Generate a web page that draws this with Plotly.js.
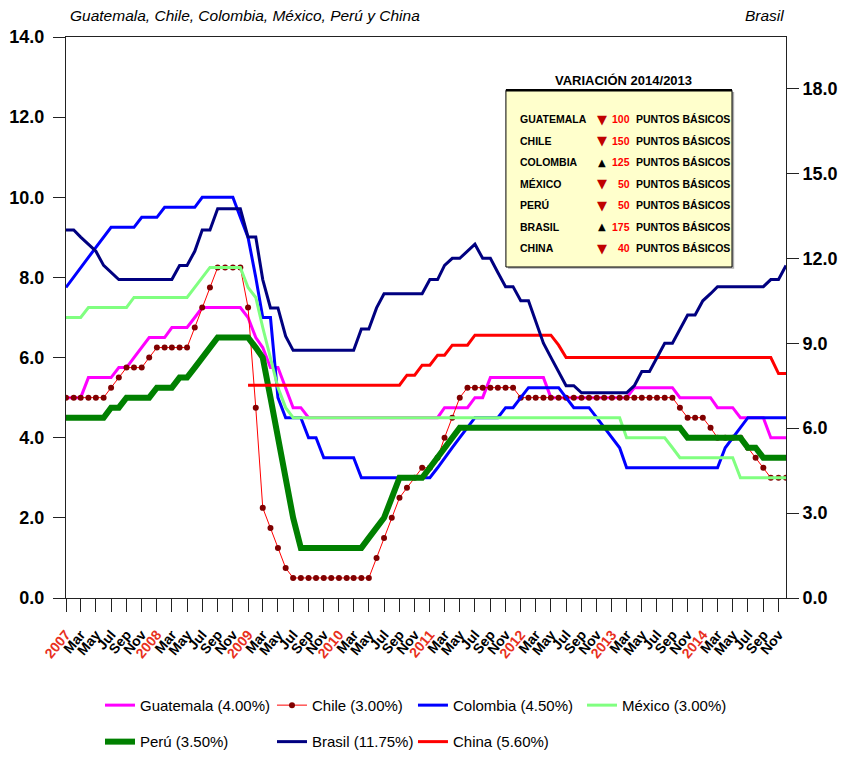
<!DOCTYPE html>
<html><head><meta charset="utf-8">
<script src="https://cdn.plot.ly/plotly-3.0.1.min.js"></script>
<style>html,body{margin:0;padding:0;background:#fff}</style>
</head><body>
<div id="chart" style="width:846px;height:757px"></div>
<script>
// ---------- DATA ----------
const years = [2007, 2008, 2009, 2010, 2011, 2012, 2013, 2014];
const tickMonths = [1, 3, 5, 7, 9, 11];
const tickMonthLabels = ['', 'Mar', 'May', 'Jul', 'Sep', 'Nov'];

const seriesNames = ['Guatemala (4.00%)', 'Chile (3.00%)', 'Colombia (4.50%)', 'México (3.00%)',
                     'Perú (3.50%)', 'Brasil (11.75%)', 'China (5.60%)'];

const guatemala = [5.0,5.0,5.0,5.5,5.5,5.5,5.5,5.75,5.75,6.0,6.25,6.5,
  6.5,6.5,6.75,6.75,6.75,7.0,7.25,7.25,7.25,7.25,7.25,7.25,
  7.0,6.5,6.25,5.75,5.75,5.25,4.75,4.75,4.5,4.5,4.5,4.5,
  4.5,4.5,4.5,4.5,4.5,4.5,4.5,4.5,4.5,4.5,4.5,4.5,
  4.5,4.5,4.75,4.75,4.75,4.75,5.0,5.0,5.5,5.5,5.5,5.5,
  5.5,5.5,5.5,5.5,5.0,5.0,5.0,5.0,5.0,5.0,5.0,5.0,
  5.0,5.0,5.0,5.25,5.25,5.25,5.25,5.25,5.25,5.0,5.0,5.0,
  5.0,5.0,4.75,4.75,4.75,4.5,4.5,4.5,4.5,4.0,4.0,4.0];

const chile = [5.0,5.0,5.0,5.0,5.0,5.0,5.25,5.5,5.75,5.75,5.75,6.0,
  6.25,6.25,6.25,6.25,6.25,6.75,7.25,7.75,8.25,8.25,8.25,8.25,
  7.25,4.75,2.25,1.75,1.25,0.75,0.5,0.5,0.5,0.5,0.5,0.5,
  0.5,0.5,0.5,0.5,0.5,1.0,1.5,2.0,2.5,2.75,3.0,3.25,
  3.25,3.5,4.0,4.5,5.0,5.25,5.25,5.25,5.25,5.25,5.25,5.25,
  5.0,5.0,5.0,5.0,5.0,5.0,5.0,5.0,5.0,5.0,5.0,5.0,
  5.0,5.0,5.0,5.0,5.0,5.0,5.0,5.0,5.0,4.75,4.5,4.5,
  4.5,4.25,4.0,4.0,4.0,4.0,3.75,3.5,3.25,3.0,3.0,3.0];

const colombia = [7.75,8.0,8.25,8.5,8.75,9.0,9.25,9.25,9.25,9.25,9.5,9.5,
  9.5,9.75,9.75,9.75,9.75,9.75,10.0,10.0,10.0,10.0,10.0,9.5,
  9.0,8.0,7.0,7.0,5.0,4.5,4.5,4.5,4.0,4.0,3.5,3.5,
  3.5,3.5,3.5,3.0,3.0,3.0,3.0,3.0,3.0,3.0,3.0,3.0,
  3.0,3.25,3.5,3.75,4.0,4.25,4.5,4.5,4.5,4.5,4.75,4.75,
  5.0,5.25,5.25,5.25,5.25,5.25,5.0,4.75,4.75,4.75,4.5,4.25,
  4.0,3.75,3.25,3.25,3.25,3.25,3.25,3.25,3.25,3.25,3.25,3.25,
  3.25,3.25,3.25,3.75,4.0,4.25,4.5,4.5,4.5,4.5,4.5,4.5];

const mexico = [7.0,7.0,7.0,7.25,7.25,7.25,7.25,7.25,7.25,7.5,7.5,7.5,
  7.5,7.5,7.5,7.5,7.5,7.75,8.0,8.25,8.25,8.25,8.25,8.25,
  7.75,7.5,6.75,6.0,5.25,4.75,4.5,4.5,4.5,4.5,4.5,4.5,
  4.5,4.5,4.5,4.5,4.5,4.5,4.5,4.5,4.5,4.5,4.5,4.5,
  4.5,4.5,4.5,4.5,4.5,4.5,4.5,4.5,4.5,4.5,4.5,4.5,
  4.5,4.5,4.5,4.5,4.5,4.5,4.5,4.5,4.5,4.5,4.5,4.5,
  4.5,4.5,4.0,4.0,4.0,4.0,4.0,4.0,3.75,3.5,3.5,3.5,
  3.5,3.5,3.5,3.5,3.5,3.0,3.0,3.0,3.0,3.0,3.0,3.0];

const peru = [4.5,4.5,4.5,4.5,4.5,4.5,4.75,4.75,5.0,5.0,5.0,5.0,
  5.25,5.25,5.25,5.5,5.5,5.75,6.0,6.25,6.5,6.5,6.5,6.5,
  6.5,6.25,6.0,5.0,4.0,3.0,2.0,1.25,1.25,1.25,1.25,1.25,
  1.25,1.25,1.25,1.25,1.5,1.75,2.0,2.5,3.0,3.0,3.0,3.0,
  3.25,3.5,3.75,4.0,4.25,4.25,4.25,4.25,4.25,4.25,4.25,4.25,
  4.25,4.25,4.25,4.25,4.25,4.25,4.25,4.25,4.25,4.25,4.25,4.25,
  4.25,4.25,4.25,4.25,4.25,4.25,4.25,4.25,4.25,4.25,4.0,4.0,
  4.0,4.0,4.0,4.0,4.0,4.0,3.75,3.75,3.5,3.5,3.5,3.5];

const brasil = [13.0,13.0,12.75,12.5,12.25,11.75,11.5,11.25,11.25,11.25,11.25,11.25,
  11.25,11.25,11.25,11.75,11.75,12.25,13.0,13.0,13.75,13.75,13.75,13.75,
  12.75,12.75,11.25,10.25,10.25,9.25,8.75,8.75,8.75,8.75,8.75,8.75,
  8.75,8.75,8.75,9.5,9.5,10.25,10.75,10.75,10.75,10.75,10.75,10.75,
  11.25,11.25,11.75,12.0,12.0,12.25,12.5,12.0,12.0,11.5,11.0,11.0,
  10.5,10.5,9.75,9.0,8.5,8.0,7.5,7.5,7.25,7.25,7.25,7.25,
  7.25,7.25,7.25,7.5,8.0,8.0,8.5,9.0,9.0,9.5,10.0,10.0,
  10.5,10.75,11.0,11.0,11.0,11.0,11.0,11.0,11.0,11.25,11.25,11.75];

const china = [null,null,null,null,null,null,null,null,null,null,null,null,
  null,null,null,null,null,null,null,null,null,null,null,null,
  5.31,5.31,5.31,5.31,5.31,5.31,5.31,5.31,5.31,5.31,5.31,5.31,
  5.31,5.31,5.31,5.31,5.31,5.31,5.31,5.31,5.31,5.56,5.56,5.81,
  5.81,6.06,6.06,6.31,6.31,6.31,6.56,6.56,6.56,6.56,6.56,6.56,
  6.56,6.56,6.56,6.56,6.56,6.31,6.0,6.0,6.0,6.0,6.0,6.0,
  6.0,6.0,6.0,6.0,6.0,6.0,6.0,6.0,6.0,6.0,6.0,6.0,
  6.0,6.0,6.0,6.0,6.0,6.0,6.0,6.0,6.0,6.0,5.6,5.6];

// Inset box
const boxTitle = 'VARIACIÓN 2014/2013';
const boxCountries = ['GUATEMALA', 'CHILE', 'COLOMBIA', 'MÉXICO', 'PERÚ', 'BRASIL', 'CHINA'];
const boxBasisPoints = [100, 150, 125, 50, 50, 175, 40];
const boxDirection = ['down', 'down', 'up', 'down', 'down', 'up', 'down'];
const boxUnit = 'PUNTOS BÁSICOS';

// ---------- BUILD ----------
const pad = n => (n < 10 ? '0' + n : '' + n);
const dates = [];
years.forEach(y => { for (let m = 1; m <= 12; m++) dates.push(y + '-' + pad(m) + '-01'); });

const tickvals = [], ticktext = [];
years.forEach(y => tickMonths.forEach((m, k) => {
  tickvals.push(y + '-' + pad(m) + '-01');
  ticktext.push(k === 0 ? '<span style="color:rgb(232,48,32)">' + y + '</span>' : tickMonthLabels[k]);
}));

const SANS = '"Liberation Sans", Arial, sans-serif';

function line(name, y, color, width, legend, extra) {
  return Object.assign({
    type: 'scatter', mode: 'lines', x: dates, y: y, name: name,
    line: {color: color, width: width}, legend: legend, legendgroup: name,
    hoverinfo: 'skip'
  }, extra || {});
}

const traces = [
  line(seriesNames[0], guatemala, '#FF00FF', 3, 'legend'),
  line(seriesNames[1], chile, '#FF0000', 1, 'legend2',
       {mode: 'lines+markers', marker: {color: '#800000', size: 6, symbol: 'circle'}}),
  line(seriesNames[2], colombia, '#0000FF', 3, 'legend3'),
  line(seriesNames[3], mexico, '#80FF80', 3, 'legend4'),
  line(seriesNames[4], peru, '#008000', 6, 'legend'),
  line(seriesNames[5], brasil, '#000080', 3, 'legend2', {yaxis: 'y2'}),
  line(seriesNames[6], china, '#FF0000', 3, 'legend3')
];

const legendBase = {
  orientation: 'v', xanchor: 'left', yanchor: 'top', y: -0.162,
  tracegroupgap: 14, itemwidth: 30, bgcolor: 'rgba(0,0,0,0)',
  font: {family: SANS, size: 15, color: '#000'}
};

const annotations = [
  {xref: 'paper', yref: 'paper', x: 0.003, y: 1.039, xanchor: 'left', yanchor: 'middle', showarrow: false,
   text: '<i>Guatemala, Chile, Colombia, México, Perú y China</i>', font: {family: SANS, size: 15.5, color: '#000'}},
  {xref: 'paper', yref: 'paper', x: 1.0, y: 1.039, xanchor: 'right', yanchor: 'middle', showarrow: false,
   text: '<i>Brasil</i>', font: {family: SANS, size: 15.5, color: '#000'}},
  {xref: 'paper', yref: 'paper', x: 0.774, y: 0.923, xanchor: 'center', yanchor: 'middle', showarrow: false,
   text: '<b>' + boxTitle + '</b>', font: {family: SANS, size: 13, color: '#000'}}
];
boxCountries.forEach((c, k) => {
  const yy = 0.853 - k * 0.0382;
  annotations.push({xref: 'paper', yref: 'paper', x: 0.628, y: yy, xanchor: 'left', yanchor: 'middle', showarrow: false,
    text: '<b>' + c + '</b>', font: {family: SANS, size: 10.5, color: '#000'}});
  annotations.push({xref: 'paper', yref: 'paper', x: 0.745, y: yy, xanchor: 'center', yanchor: 'middle', showarrow: false,
    text: boxDirection[k] === 'up' ? '▲' : '▼',
    font: {family: 'DejaVu Sans', size: boxDirection[k] === 'up' ? 10 : 13, color: boxDirection[k] === 'up' ? '#000' : '#C00000'}});
  annotations.push({xref: 'paper', yref: 'paper', x: 0.786, y: yy, xanchor: 'right', yanchor: 'middle', showarrow: false,
    text: '<b>' + boxBasisPoints[k] + '</b>', font: {family: SANS, size: 10.5, color: '#FF0000'}});
  annotations.push({xref: 'paper', yref: 'paper', x: 0.789, y: yy, xanchor: 'left', yanchor: 'middle', showarrow: false,
    text: '<b>' + boxUnit + '</b>', font: {family: SANS, size: 10.5, color: '#000'}});
});

const shapes = [
  {type: 'rect', xref: 'paper', yref: 'paper', x0: 0.614, x1: 0.928, y0: 0.587, y1: 0.902,
   fillcolor: 'rgba(120,120,120,0.6)', line: {width: 0}, layer: 'above'},
  {type: 'rect', xref: 'paper', yref: 'paper', x0: 0.611, x1: 0.925, y0: 0.590, y1: 0.905,
   fillcolor: '#FFFFCC', line: {color: '#000', width: 1}, layer: 'above'},
  {type: 'line', xref: 'paper', yref: 'paper', x0: 0.611, x1: 0.925, y0: 0.905, y1: 0.905,
   line: {color: '#000', width: 2.5}, layer: 'above'}
];

const layout = {
  width: 846, height: 757,
  margin: {l: 66, r: 60, t: 37, b: 159, autoexpand: false},
  paper_bgcolor: '#fff', plot_bgcolor: '#fff',
  showlegend: true,
  hovermode: false,
  xaxis: {
    type: 'date', range: ['2007-01-01', '2014-12-01'], automargin: false,
    tickmode: 'array', tickvals: tickvals, ticktext: ticktext, tickangle: -50,
    ticks: 'outside', ticklen: 13, tickcolor: '#222', tickwidth: 1,
    showline: true, linecolor: '#222', linewidth: 1, mirror: true,
    showgrid: false, zeroline: false, ticklabelstandoff: 9,
    tickfont: {family: SANS, size: 14, color: '#000', weight: 'bold'}
  },
  yaxis: {
    range: [0, 14], tickmode: 'array', tickvals: [0, 2, 4, 6, 8, 10, 12, 14], automargin: false,
    tickformat: '.1f', ticks: 'outside', ticklen: 12, tickcolor: '#222',
    showline: true, linecolor: '#222', linewidth: 1,
    showgrid: false, zeroline: false, ticklabelstandoff: 5,
    tickfont: {family: SANS, size: 18, color: '#000', weight: 'bold'}
  },
  yaxis2: {
    overlaying: 'y', side: 'right', range: [0, 19.82], automargin: false,
    tickmode: 'array', tickvals: [0, 3, 6, 9, 12, 15, 18], tickformat: '.1f',
    ticks: 'outside', ticklen: 12, tickcolor: '#222',
    showline: true, linecolor: '#222', linewidth: 1,
    showgrid: false, zeroline: false,
    tickfont: {family: SANS, size: 18, color: '#000', weight: 'bold'}
  },
  legend: Object.assign({}, legendBase, {x: 0.0472}),
  legend2: Object.assign({}, legendBase, {x: 0.2861}),
  legend3: Object.assign({}, legendBase, {x: 0.4819}),
  legend4: Object.assign({}, legendBase, {x: 0.7167}),
  annotations: annotations,
  shapes: shapes
};

Plotly.newPlot('chart', traces, layout, {displayModeBar: false, staticPlot: true});
</script>
</body></html>
